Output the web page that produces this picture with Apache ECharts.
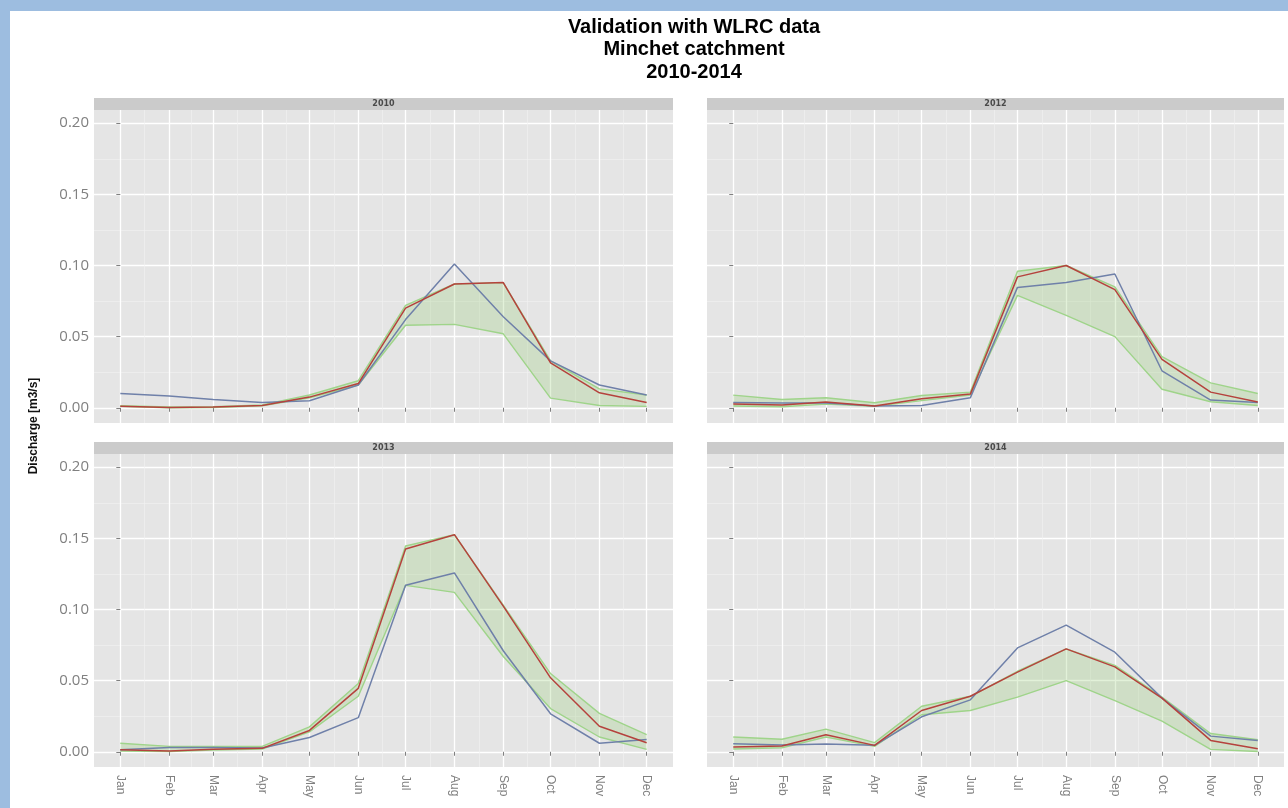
<!DOCTYPE html>
<html>
<head>
<meta charset="utf-8">
<script src="https://cdn.jsdelivr.net/npm/echarts@6/dist/echarts.min.js"></script>
<style>html,body{margin:0;padding:0;background:#fff;}#c{width:1288px;height:808px;}</style>
</head>
<body>
<div id="c"></div>
<script>
// ---- data ----
const months = ['Jan','Feb','Mar','Apr','May','Jun','Jul','Aug','Sep','Oct','Nov','Dec'];
const monthDay = [0,31,59,90,120,151,181,212,243,273,304,334];
const panelYears = ['2010','2012','2013','2014'];
const yTicks = [0, 0.05, 0.10, 0.15, 0.20];

const obs2010 = [0.0100,0.0082,0.0058,0.0037,0.0050,0.0160,0.0620,0.1010,0.0640,0.0330,0.0160,0.0090];
const sim2010 = [0.0010,0.0002,0.0005,0.0016,0.0075,0.0170,0.0700,0.0870,0.0880,0.0315,0.0105,0.0037];
const hi2010  = [0.0014,0.0005,0.0008,0.0020,0.0090,0.0190,0.0720,0.0870,0.0880,0.0330,0.0133,0.0090];
const lo2010  = [0.0010,0.0000,0.0002,0.0014,0.0070,0.0160,0.0580,0.0586,0.0520,0.0068,0.0016,0.0010];

const obs2012 = [0.0037,0.0033,0.0033,0.0012,0.0016,0.0070,0.0846,0.0880,0.0940,0.0260,0.0054,0.0037];
const sim2012 = [0.0026,0.0019,0.0040,0.0012,0.0063,0.0096,0.0920,0.1000,0.0830,0.0340,0.0110,0.0040];
const hi2012  = [0.0089,0.0058,0.0070,0.0035,0.0086,0.0110,0.0960,0.1000,0.0850,0.0360,0.0175,0.0100];
const lo2012  = [0.0012,0.0007,0.0026,0.0010,0.0050,0.0090,0.0790,0.0650,0.0500,0.0130,0.0042,0.0016];

const obs2013 = [0.0014,0.0030,0.0030,0.0026,0.0100,0.0240,0.1170,0.1257,0.0710,0.0267,0.0060,0.0087];
const sim2013 = [0.0014,0.0005,0.0017,0.0024,0.0150,0.0446,0.1425,0.1526,0.1024,0.0520,0.0180,0.0064];
const hi2013  = [0.0060,0.0038,0.0038,0.0038,0.0175,0.0480,0.1446,0.1526,0.1030,0.0550,0.0270,0.0120];
const lo2013  = [0.0005,0.0002,0.0012,0.0019,0.0140,0.0390,0.1170,0.1120,0.0670,0.0304,0.0104,0.0017];

const obs2014 = [0.0057,0.0047,0.0055,0.0045,0.0246,0.0365,0.0730,0.0890,0.0700,0.0377,0.0110,0.0080];
const sim2014 = [0.0033,0.0040,0.0120,0.0045,0.0290,0.0390,0.0560,0.0723,0.0597,0.0377,0.0080,0.0021];
const hi2014  = [0.0104,0.0088,0.0159,0.0064,0.0320,0.0390,0.0566,0.0723,0.0607,0.0384,0.0128,0.0085];
const lo2014  = [0.0019,0.0028,0.0104,0.0038,0.0260,0.0290,0.0384,0.0500,0.0360,0.0216,0.0017,0.0002];

const panels = [
  {year: panelYears[0], obs: obs2010, sim: sim2010, hi: hi2010, lo: lo2010},
  {year: panelYears[1], obs: obs2012, sim: sim2012, hi: hi2012, lo: lo2012},
  {year: panelYears[2], obs: obs2013, sim: sim2013, hi: hi2013, lo: lo2013},
  {year: panelYears[3], obs: obs2014, sim: sim2014, hi: hi2014, lo: lo2014}
];

// ---- layout ----
const G = [
  {left: 94,  top: 110, width: 579, height: 313},
  {left: 707, top: 110, width: 577, height: 313},
  {left: 94,  top: 454, width: 579, height: 313},
  {left: 707, top: 454, width: 577, height: 313}
];
const X_MIN = -16.7, X_MAX = 350.7;
const Y_MIN = -0.0107, Y_MAX = 0.2093;
const midMonths = monthDay.slice(0, -1).map((d, i) => (d + monthDay[i + 1]) / 2);
const midY = yTicks.slice(0, -1).map((v, i) => (v + yTicks[i + 1]) / 2);

const C_OBS = '#6f80a9', C_SIM = '#b5423d', C_RNG = '#9fd48a';
const GREY = '#808080';

const grid = [], xAxis = [], yAxis = [], series = [], graphic = [];

// background frame
graphic.push({type: 'rect', shape: {x: 0, y: 0, width: 1288, height: 11}, style: {fill: '#9dbde0'}, silent: true, z: 0});
graphic.push({type: 'rect', shape: {x: 0, y: 0, width: 10, height: 808}, style: {fill: '#9dbde0'}, silent: true, z: 0});

G.forEach((g, i) => {
  grid.push(Object.assign({backgroundColor: '#e5e5e5', show: true, borderWidth: 0, containLabel: false}, g));
  const bottomRow = i >= 2, leftCol = (i % 2) === 0;
  // minor x grid
  xAxis.push({
    type: 'value', gridIndex: i, min: X_MIN, max: X_MAX, position: 'bottom',
    axisLine: {show: false}, axisLabel: {show: false},
    axisTick: {show: false, customValues: midMonths},
    splitLine: {show: true, lineStyle: {color: '#f2f2f2', width: 0.6}}
  });
  // major x axis
  xAxis.push({
    type: 'value', gridIndex: i, min: X_MIN, max: X_MAX, position: 'bottom',
    axisLine: {show: false},
    axisTick: {show: true, length: 4, lineStyle: {color: GREY, width: 1}, customValues: monthDay},
    axisLabel: {show: bottomRow, customValues: monthDay, rotate: -90, margin: 8,
      color: GREY, fontSize: 12, fontFamily: 'Liberation Sans',
      formatter: v => months[monthDay.indexOf(v)] || ''},
    splitLine: {show: true, lineStyle: {color: '#ffffff', width: 1.3}}
  });
  // minor y grid
  yAxis.push({
    type: 'value', gridIndex: i, min: Y_MIN, max: Y_MAX, position: 'left',
    axisLine: {show: false}, axisLabel: {show: false},
    axisTick: {show: false, customValues: midY},
    splitLine: {show: true, lineStyle: {color: '#f2f2f2', width: 0.6}}
  });
  // major y axis
  yAxis.push({
    type: 'value', gridIndex: i, min: Y_MIN, max: Y_MAX, position: 'left',
    axisLine: {show: false},
    axisTick: {show: true, length: 4, lineStyle: {color: GREY, width: 1}, customValues: yTicks},
    axisLabel: {show: leftCol, customValues: yTicks, margin: 5, color: GREY, fontSize: 15,
      fontFamily: 'Open Sans', formatter: v => v.toFixed(2)},
    splitLine: {show: true, lineStyle: {color: '#ffffff', width: 1.3}}
  });

  const p = panels[i];
  const xi = i * 2 + 1, yi = i * 2 + 1;
  const ribbon = monthDay.map((d, k) => [d, p.lo[k], p.hi[k]]);
  // ribbon fill (one polygon through the axis scales)
  series.push({type: 'custom', name: 'range-fill', xAxisIndex: xi, yAxisIndex: yi,
    data: ribbon, silent: true, z: 2, clip: true,
    encode: {x: 0, y: [1, 2]},
    renderItem: (params, api) => {
      if (params.dataIndex !== 0) return null;
      const up = ribbon.map(r => api.coord([r[0], r[2]]));
      const dn = ribbon.slice().reverse().map(r => api.coord([r[0], r[1]]));
      return {type: 'polygon', shape: {points: up.concat(dn)},
        style: {fill: 'rgba(150,205,120,0.28)', stroke: null}};
    }});
  series.push({type: 'line', name: 'range-low', xAxisIndex: xi, yAxisIndex: yi,
    data: monthDay.map((d, k) => [d, p.lo[k]]), showSymbol: false,
    lineStyle: {color: C_RNG, width: 1.4}, silent: true, z: 2});
  series.push({type: 'line', name: 'range-high', xAxisIndex: xi, yAxisIndex: yi,
    data: monthDay.map((d, k) => [d, p.hi[k]]), showSymbol: false,
    lineStyle: {color: C_RNG, width: 1.4}, silent: true, z: 2});
  series.push({type: 'line', name: 'observed', xAxisIndex: xi, yAxisIndex: yi,
    data: monthDay.map((d, k) => [d, p.obs[k]]), showSymbol: false,
    lineStyle: {color: C_OBS, width: 1.5}, silent: true, z: 3});
  series.push({type: 'line', name: 'simulated', xAxisIndex: xi, yAxisIndex: yi,
    data: monthDay.map((d, k) => [d, p.sim[k]]), showSymbol: false,
    lineStyle: {color: C_SIM, width: 1.5}, silent: true, z: 4});

  // strip header
  graphic.push({type: 'rect', shape: {x: g.left, y: g.top - 12, width: g.width, height: 12},
    style: {fill: '#cbcbcb'}, silent: true, z: 1});
  graphic.push({type: 'text', x: g.left + g.width / 2, y: g.top - 6,
    style: {text: p.year, fill: '#4a4a4a', fontSize: 8, fontWeight: 'bold', fontFamily: 'DejaVu Sans',
      align: 'center', verticalAlign: 'middle'}, silent: true, z: 2});
});

// y axis title
graphic.push({type: 'text', x: 34, y: 426, rotation: Math.PI / 2,
  style: {text: 'Discharge [m3/s]', fill: '#111', fontSize: 12, fontWeight: 'bold',
    fontFamily: '"Liberation Sans Narrow", "Liberation Sans"',
    align: 'center', verticalAlign: 'middle'}, silent: true, z: 2});

const chart = echarts.init(document.getElementById('c'), null, {renderer: 'canvas'});
chart.setOption({
  animation: false,
  backgroundColor: '#ffffff',
  title: {
    text: 'Validation with WLRC data\nMinchet catchment\n2010-2014',
    left: 689, top: 11, textAlign: 'center',
    textStyle: {fontSize: 20, fontWeight: 'bold', color: '#000', fontFamily: 'Liberation Sans', lineHeight: 22.5}
  },
  grid, xAxis, yAxis, series, graphic
});
</script>
</body>
</html>
